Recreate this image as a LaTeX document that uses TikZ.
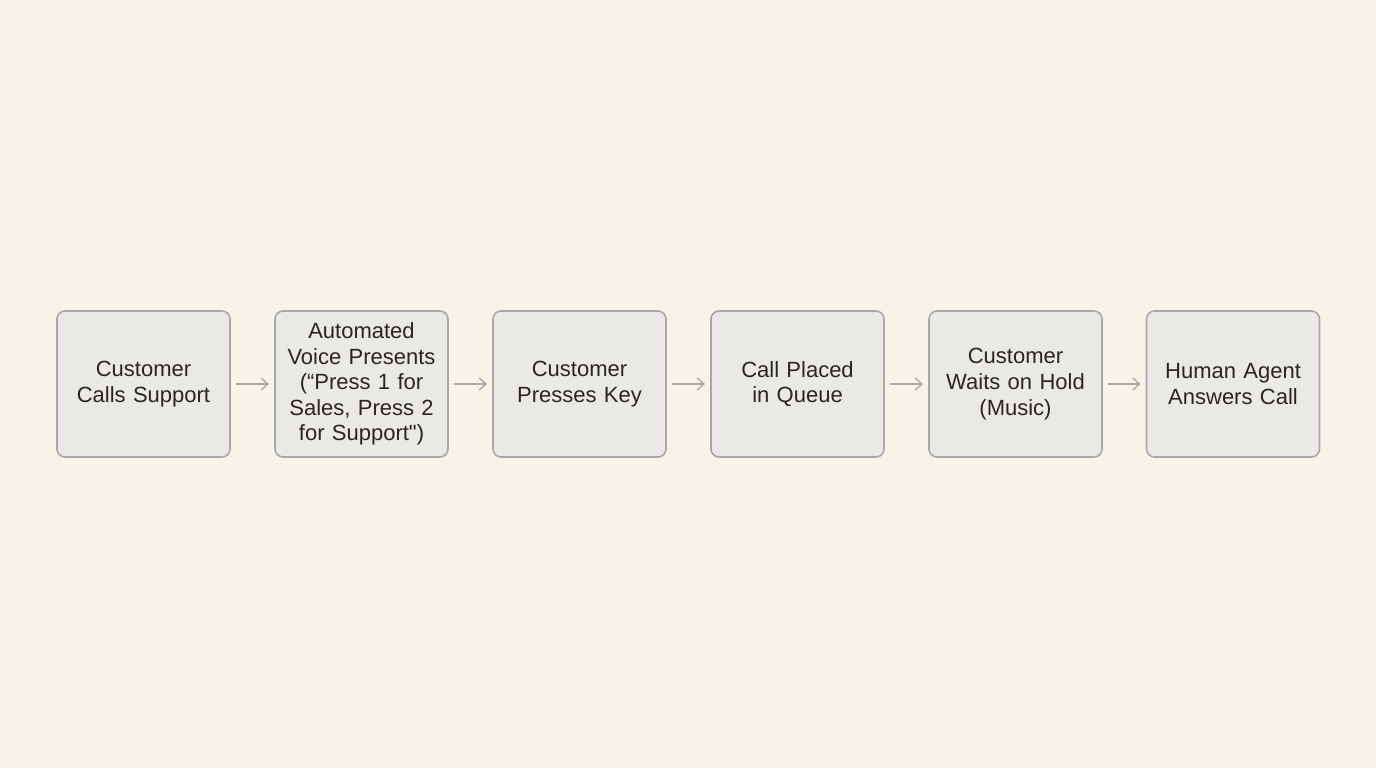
\documentclass[tikz,border=0pt]{standalone}
\usepackage{fontspec}
\setmainfont{Liberation Sans}
\newfontfamily\straightq{Liberation Sans}[Ligatures=TeXOff]
\usetikzlibrary{arrows.meta}
\definecolor{bg}{HTML}{F7F3E9}
\definecolor{boxfill}{HTML}{EAE9E6}
\definecolor{boxline}{HTML}{A8A8A6}
\definecolor{txt}{HTML}{2A2520}
\begin{document}
\begin{tikzpicture}[x=0.75pt,y=-0.75pt,
  stepbox/.style={draw=boxline,line width=1.2pt,fill=boxfill,rounded corners=6pt,
    minimum width=173*0.75pt,minimum height=146*0.75pt,inner sep=0pt,
    align=center,text width=165*0.75pt,font=\fontsize{16.5pt}{19.2pt}\selectfont,text=txt},
  conn/.style={draw=boxline,line width=1pt,-{Straight Barb[length=5pt,width=9pt]}}]
\fill[bg] (0,0) rectangle (1376,768);
\node[stepbox] (a) at (143.5,384) {Customer\\Calls Support};
\node[stepbox] (b) at (361.5,384) {Automated\\Voice Presents\\(“Press 1 for\\Sales, Press 2\\for Support{\straightq"})};
\node[stepbox] (c) at (579.5,384) {Customer\\Presses Key};
\node[stepbox] (d) at (797.5,384) {Call Placed\\in Queue};
\node[stepbox] (e) at (1015.5,384) {Customer\\Waits on Hold\\(Music)};
\node[stepbox] (f) at (1233,384) {Human Agent\\Answers Call};
\foreach \p/\q in {a/b,b/c,c/d,d/e,e/f}
  \draw[conn] ([xshift=4pt]\p.east) -- ([xshift=-4pt]\q.west);
\end{tikzpicture}
\end{document}
